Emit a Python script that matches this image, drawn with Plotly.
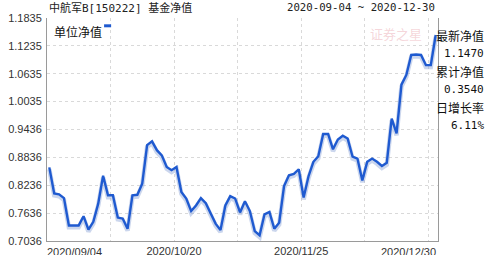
import plotly.graph_objects as go

# ---- data ----
nav_values = [
    0.862, 0.806, 0.804, 0.796, 0.737, 0.737, 0.737, 0.757, 0.728, 0.745,
    0.784, 0.844, 0.802, 0.802, 0.754, 0.752, 0.730, 0.802, 0.803, 0.827,
    0.910, 0.918, 0.899, 0.888, 0.863, 0.856, 0.863, 0.809, 0.795, 0.768,
    0.780, 0.796, 0.785, 0.763, 0.741, 0.727, 0.780, 0.800, 0.795, 0.765,
    0.789, 0.768, 0.725, 0.716, 0.761, 0.766, 0.730, 0.743, 0.822, 0.845,
    0.848, 0.858, 0.797, 0.843, 0.874, 0.886, 0.934, 0.934, 0.901, 0.922,
    0.930, 0.924, 0.885, 0.881, 0.834, 0.874, 0.881, 0.874, 0.865, 0.872,
    0.967, 0.935, 1.040, 1.061, 1.104, 1.105, 1.104, 1.082, 1.082, 1.147,
]
x_index = list(range(len(nav_values)))

y_ticks = [0.7036, 0.7636, 0.8236, 0.8836, 0.9436, 1.0035, 1.0635, 1.1235, 1.1835]
y_ticktext = ["0.7036", "0.7636", "0.8236", "0.8836", "0.9436", "1.0035", "1.0635", "1.1235", "1.1835"]

mid_label_pos = [25.5, 51.5]
mid_labels = ["2020/10/20", "2020/11/25"]
start_label = "2020/09/04"
end_label = "2020/12/30"

title_text = "中航军B[150222] 基金净值"
range_text = "2020-09-04 ~ 2020-12-30"
legend_text = "单位净值"
side_labels = ["最新净值", "1.1470", "累计净值", "0.3540", "日增长率", "6.11%"]

LINE = "#1f5ad0"
GRID = "#d9d9d9"
AXIS = "#9a9a9a"
TXT = "#333333"
MONO = "DejaVu Sans Mono, Noto Sans CJK SC"
CJK = "Noto Sans CJK SC, Liberation Sans"

fig = go.Figure()
# soft shadow under the line
fig.add_trace(go.Scatter(x=x_index, y=[v - 0.004 for v in nav_values], mode="lines",
                         line=dict(color="rgba(140,165,215,0.45)", width=4.5),
                         hoverinfo="skip", showlegend=False))
fig.add_trace(go.Scatter(x=x_index, y=nav_values, mode="lines",
                         line=dict(color=LINE, width=2.4), showlegend=False))

fig.update_layout(
    width=488, height=255,
    margin=dict(l=47, r=50, t=18, b=14, autoexpand=False),
    paper_bgcolor="white", plot_bgcolor="white",
    xaxis=dict(range=[-0.47, len(nav_values) - 0.53], automargin=False,
               tickmode="array", tickvals=mid_label_pos, ticktext=mid_labels,
               showgrid=True, gridcolor=GRID, griddash="dot", gridwidth=1,
               minor=dict(tick0=-0.5, dtick=13, showgrid=True, gridcolor=GRID,
                          griddash="dot", gridwidth=1),
               showline=True, linecolor=AXIS, linewidth=1, mirror=False,
               ticks="", zeroline=False, ticklabelstandoff=0,
               tickfont=dict(family="Liberation Sans", size=11, color=TXT)),
    yaxis=dict(range=[0.7036, 1.1835], automargin=False,
               tickmode="array", tickvals=y_ticks, ticktext=y_ticktext,
               showgrid=True, gridcolor=GRID, griddash="dot", gridwidth=1,
               showline=True, linecolor=AXIS, linewidth=1, mirror=True,
               ticks="", zeroline=False, ticklabelstandoff=2,
               tickfont=dict(family="Liberation Sans", size=11, color=TXT)),
)

ann = []
ann.append(dict(text=title_text, xref="paper", yref="paper", x=0.0, y=1.045,
                xanchor="left", yanchor="middle", showarrow=False,
                font=dict(family=MONO, size=11, color="#222222")))
ann.append(dict(text=range_text, xref="paper", yref="paper", x=0.998, y=1.045,
                xanchor="right", yanchor="middle", showarrow=False,
                font=dict(family=MONO, size=10.7, color="#222222")))
ann.append(dict(text=legend_text, xref="paper", yref="paper", x=0.012, y=0.94,
                xanchor="left", yanchor="middle", showarrow=False,
                font=dict(family=CJK, size=12, color="#111111")))
ann.append(dict(text="证券之星", xref="paper", yref="paper", x=0.965, y=0.93,
                xanchor="right", yanchor="middle", showarrow=False,
                font=dict(family=CJK, size=13, color="rgba(230,150,160,0.4)")))
ann.append(dict(text=start_label, xref="paper", yref="paper", x=-0.005, y=-0.015,
                xanchor="left", yanchor="top", showarrow=False,
                font=dict(family="Liberation Sans", size=11, color=TXT)))
ann.append(dict(text=end_label, xref="paper", yref="paper", x=1.0, y=-0.015,
                xanchor="right", yanchor="top", showarrow=False,
                font=dict(family="Liberation Sans", size=11, color=TXT)))
side_y = [0.923, 0.843, 0.758, 0.681, 0.600, 0.520]
for i, t in enumerate(side_labels):
    ann.append(dict(text=t, xref="paper", yref="paper", x=1.124, y=side_y[i],
                    xanchor="right", yanchor="middle", showarrow=False,
                    font=dict(family=MONO if i % 2 else CJK,
                              size=11 if i % 2 else 12, color="#111111")))
fig.update_layout(annotations=ann)

# legend marker (small blue dash after the legend text)
fig.add_shape(type="line", xref="paper", yref="paper", x0=0.146, x1=0.164,
              y0=0.965, y1=0.965, line=dict(color=LINE, width=3))

fig.write_html("out.html")
